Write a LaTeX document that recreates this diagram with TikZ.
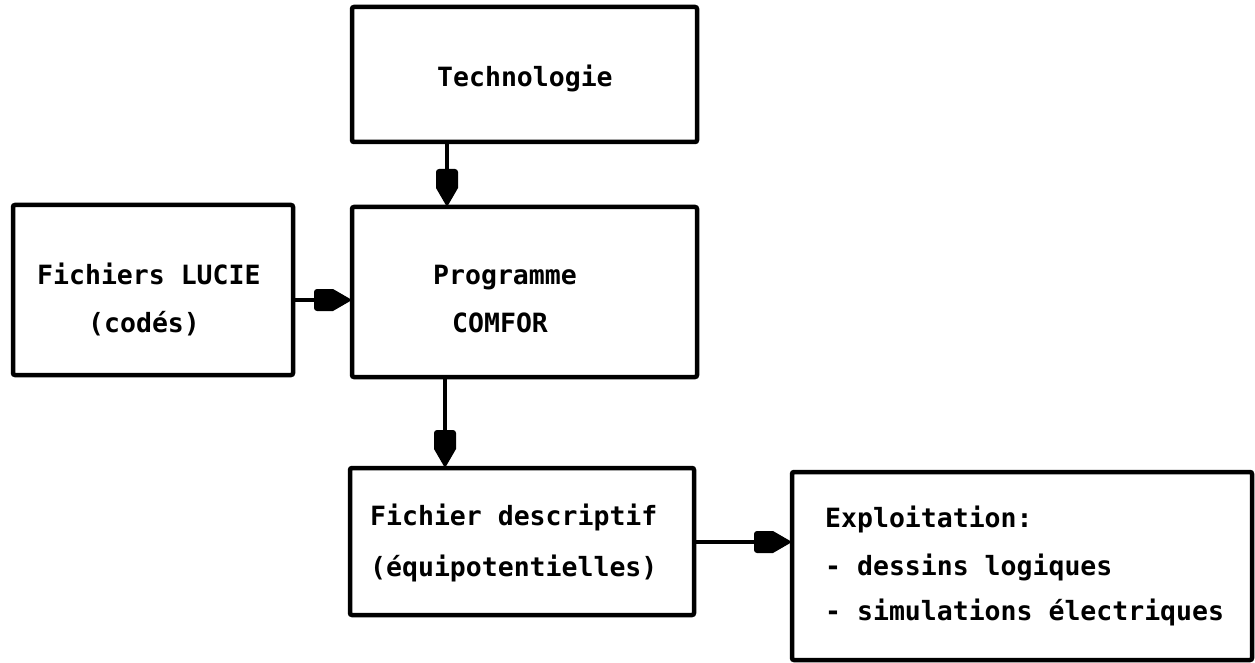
\documentclass[tikz,border=0pt]{standalone}
\usepackage{fontspec}
\setmonofont{DejaVu Sans Mono}
\begin{document}
\begin{tikzpicture}[x=1pt,y=-1pt,
  box/.style={draw, line width=4.5pt, rounded corners=2pt, inner sep=0pt, outer sep=0pt},
  lbl/.style={inner sep=0pt, anchor=base west, font=\fontsize{26.5}{30}\selectfont\ttfamily\bfseries},
  wire/.style={line width=4.5pt, shorten >=19pt},
  headpencil/.pic={\fill (0,0) -- (-19,11) [rounded corners=3pt] -- (-38,11) -- (-38,-11) [sharp corners] -- (-19,-11) -- cycle;}]
\useasboundingbox (0,0) rectangle (1255,663);

% boxes
\node[box, minimum width=345pt, minimum height=135pt] (tech) at (524.5,74.5) {};
\node[box, minimum width=280pt, minimum height=170pt] (fl) at (153,290) {};
\node[box, minimum width=345pt, minimum height=170pt] (prog) at (524.5,292) {};
\node[box, minimum width=344pt, minimum height=147pt] (fd) at (522,541.5) {};
\node[box, minimum width=460pt, minimum height=188pt] (ex) at (1022,566) {};

% texts
\node[lbl] (ttech) at (437,87) {Technologie};
\node[lbl] (tfl1) at (37,284) {Fichiers LUCIE};
\node[lbl] (tfl2) at (88,332) {(codés)};
\node[lbl] (tpr1) at (433,284) {Programme};
\node[lbl] (tpr2) at (452,332) {COMFOR};
\node[lbl] (tfd1) at (370,525) {Fichier descriptif};
\node[lbl] (tfd2) at (370,576) {(équipotentielles)};
\node[lbl] (tex1) at (825,527) {Exploitation:};
\node[lbl] (tex2) at (825,575) {- dessins logiques};
\node[lbl] (tex3) at (825,620) {- simulations électriques};

% connectors
\coordinate (a1) at (447,0);
\coordinate (a2) at (0,300);
\coordinate (a3) at (445,0);
\coordinate (a4) at (0,542);
\draw[wire] (tech.south -| a1) -- (prog.north -| a1) pic[rotate=-90]{headpencil};
\draw[wire] (fl.east |- a2) -- (prog.west |- a2) pic{headpencil};
\draw[wire] (prog.south -| a3) -- (fd.north -| a3) pic[rotate=-90]{headpencil};
\draw[wire] (fd.east |- a4) -- (ex.west |- a4) pic{headpencil};
\end{tikzpicture}
\end{document}
